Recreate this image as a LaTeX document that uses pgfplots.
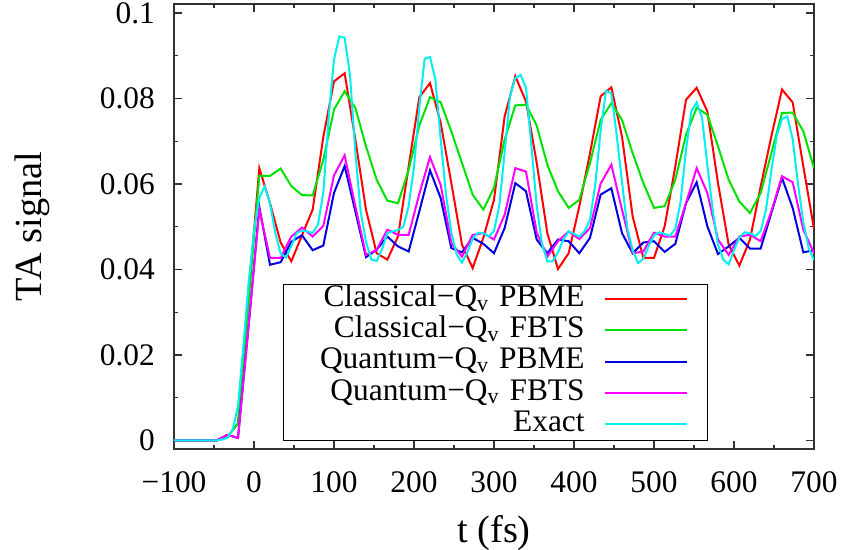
\documentclass[border=0pt]{standalone}
\usepackage{pgfplots}
\pgfplotsset{compat=1.18}
\usepackage{pgfplotstable}
\usepackage{fontspec}
\setmainfont{Liberation Serif}
\definecolor{cred}{RGB}{255,0,0}
\definecolor{cgreen}{RGB}{0,225,0}
\definecolor{cblue}{RGB}{0,0,225}
\definecolor{cmag}{RGB}{255,0,255}
\definecolor{ccyan}{RGB}{0,240,240}
\definecolor{axgray}{RGB}{50,50,50}

\pgfplotstableread{
t R G B M
-100 0 0 0 0
-86.67 0 0 0 0
-73.33 0 0 0 0
-60 0 0 0 0
-46.67 0 0 0 0
-33.33 0.0008 0.0008 0.0013 0.0013
-20 0.004 0.004 0.0006 0.0006
-6.67 0.034 0.033 0.027 0.027
6.67 0.0637 0.0619 0.0546 0.054
20 0.0555 0.0619 0.0411 0.0427
33.33 0.0463 0.0636 0.0417 0.0427
46.67 0.0419 0.0595 0.0465 0.0477
60 0.048 0.0574 0.048 0.0498
73.33 0.054 0.0573 0.0445 0.0477
86.67 0.071 0.0657 0.0456 0.0502
100 0.084 0.0774 0.0579 0.062
113.33 0.0859 0.0817 0.0642 0.0667
126.67 0.0704 0.0778 0.0536 0.0548
140 0.054 0.0688 0.0429 0.0434
153.33 0.0438 0.061 0.0446 0.0446
166.67 0.0423 0.0561 0.0477 0.0493
180 0.0477 0.0555 0.0454 0.0481
193.33 0.0641 0.0633 0.0442 0.0481
206.67 0.0803 0.0737 0.0536 0.0577
220 0.0836 0.0803 0.0632 0.0663
233.33 0.0743 0.0791 0.0567 0.0598
246.67 0.0602 0.0723 0.045 0.0462
260 0.0458 0.0649 0.044 0.043
273.33 0.0403 0.0575 0.0474 0.0481
286.67 0.0474 0.054 0.046 0.0485
300 0.0563 0.0591 0.0438 0.047
313.33 0.0758 0.0704 0.0497 0.0528
326.67 0.0852 0.0784 0.0602 0.0637
340 0.0793 0.0785 0.0583 0.0629
353.33 0.065 0.0737 0.047 0.0487
366.67 0.0485 0.0645 0.0438 0.043
380 0.0401 0.0583 0.047 0.0466
393.33 0.0438 0.0544 0.0466 0.0489
406.67 0.0548 0.0563 0.0438 0.0471
420 0.0672 0.0649 0.0474 0.0497
433.33 0.0805 0.075 0.0575 0.0601
446.67 0.0826 0.0789 0.059 0.0645
460 0.0711 0.075 0.0485 0.054
473.33 0.0524 0.0672 0.0438 0.0438
486.67 0.0427 0.0602 0.0463 0.0442
500 0.0427 0.0544 0.0466 0.0486
513.33 0.0501 0.0548 0.0441 0.0477
526.67 0.0641 0.061 0.046 0.0477
540 0.0797 0.0715 0.0555 0.0555
553.33 0.0825 0.0778 0.0604 0.0637
566.67 0.077 0.0762 0.0501 0.0579
580 0.0602 0.0688 0.0436 0.047
593.33 0.0458 0.061 0.0454 0.0434
606.67 0.0409 0.0559 0.0474 0.0477
620 0.047 0.0532 0.0449 0.0481
633.33 0.0594 0.0579 0.0449 0.0466
646.67 0.0711 0.0672 0.0532 0.0536
660 0.0821 0.0766 0.0614 0.0618
673.33 0.0791 0.0767 0.0544 0.0604
686.67 0.0641 0.0723 0.044 0.0493
700 0.0495 0.0637 0.0445 0.0438
}\approx

\pgfplotstableread{
t E
-100 0
-86.67 0
-73.33 0
-60 0
-46.67 0
-40 0.0002
-33.33 0.0006
-26.67 0.0025
-20 0.008
-13.33 0.022
-6.67 0.037
0 0.049
6.67 0.0568
13.33 0.0594
20 0.0555
26.67 0.0485
33.33 0.0437
40 0.0428
46.67 0.0455
53.33 0.0485
60 0.0491
66.67 0.0489
73.33 0.0485
80 0.0505
86.67 0.058
93.33 0.0755
100 0.0891
106.67 0.0945
113.33 0.0942
120 0.0855
126.67 0.0675
133.33 0.0535
140 0.0465
146.67 0.0423
153.33 0.042
160 0.0447
166.67 0.0485
173.33 0.0489
180 0.0492
186.67 0.05
193.33 0.0548
200 0.064
206.67 0.078
213.33 0.0893
220 0.0897
226.67 0.0845
233.33 0.0705
240 0.0575
246.67 0.0487
253.33 0.0435
260 0.0416
266.67 0.044
273.33 0.0472
280 0.0486
286.67 0.0485
293.33 0.0477
300 0.049
306.67 0.055
313.33 0.0675
320 0.0805
326.67 0.0848
333.33 0.0855
340 0.0825
346.67 0.069
353.33 0.055
360 0.046
366.67 0.0419
373.33 0.0419
380 0.044
386.67 0.047
393.33 0.0489
400 0.0483
406.67 0.0477
413.33 0.049
420 0.0516
426.67 0.06
433.33 0.0725
440 0.0818
446.67 0.0812
453.33 0.0715
460 0.0605
466.67 0.0497
473.33 0.0445
480 0.0415
486.67 0.0425
493.33 0.0455
500 0.048
506.67 0.0487
513.33 0.0483
520 0.0479
526.67 0.0495
533.33 0.056
540 0.068
546.67 0.077
553.33 0.0791
560 0.0755
566.67 0.0645
573.33 0.054
580 0.0458
586.67 0.0423
593.33 0.0412
600 0.0445
606.67 0.0475
613.33 0.0487
620 0.0485
626.67 0.0478
633.33 0.049
640 0.054
646.67 0.063
653.33 0.0712
660 0.0752
666.67 0.0758
673.33 0.0705
680 0.06
686.67 0.051
693.33 0.045
700 0.0422
}\exact

\begin{document}
\begin{tikzpicture}
\path[use as bounding box] (-174bp,-101bp) rectangle (670bp,449bp);
\begin{axis}[
  at={(0,0)}, anchor=south west,
  scale only axis, width=640bp, height=445bp,
  xmin=-100, xmax=700, ymin=-0.002, ymax=0.1021,
  axis line style={axgray, line width=1.3bp},
  every tick/.style={axgray, line width=1.1bp},
  major tick length=8bp, minor tick length=4.5bp,
  xtick={-100,0,100,200,300,400,500,600,700},
  xticklabels={−100,0,100,200,300,400,500,600,700},
  minor xtick={-50,50,150,250,350,450,550,650},
  ytick={0,0.02,0.04,0.06,0.08,0.1},
  yticklabels={0,0.02,0.04,0.06,0.08,0.1},
  minor ytick={0.01,0.03,0.05,0.07,0.09},
  tick align=inside,
  xtick pos=both, ytick pos=both,
  tick label style={font=\fontsize{31.5}{31.5}\selectfont, inner sep=0pt},
  xticklabel shift=22bp, yticklabel shift=19bp,
  xlabel={t (fs)}, ylabel={TA signal},
  every axis x label/.style={at={(axis description cs:0.5,0)}, anchor=base, yshift=-93bp, font=\fontsize{38.5}{38.5}\selectfont},
  every axis y label/.style={at={(axis description cs:-0.20625,0.5)}, anchor=base, rotate=90, font=\fontsize{38.5}{38.5}\selectfont},
  legend plot pos=right,
  legend cell align=right,
  legend image code/.code={\draw[line width=2bp,#1] (0bp,1bp) -- (82bp,1bp);},
  legend style={at={(0.1703,0.0171)}, anchor=south west, draw=black, line width=1.2bp,
    font=\fontsize{31.5}{31.5}\selectfont, inner xsep=20bp, inner ysep=0bp,
    row sep=0bp, column sep=19bp,
    nodes={inner sep=0pt, text height=22bp, text depth=9.3bp, text width=281bp, align=right}},
]
\addplot[color=cred, line width=2bp] table[x=t, y=R] {\approx};
\addlegendentry{Classical−Q\textsubscript{v} PBME}
\addplot[color=cgreen, line width=2bp] table[x=t, y=G] {\approx};
\addlegendentry{Classical−Q\textsubscript{v} FBTS}
\addplot[color=cblue, line width=2bp] table[x=t, y=B] {\approx};
\addlegendentry{Quantum−Q\textsubscript{v} PBME}
\addplot[color=cmag, line width=2bp] table[x=t, y=M] {\approx};
\addlegendentry{Quantum−Q\textsubscript{v} FBTS}
\addplot[color=ccyan, line width=2bp] table[x=t, y=E] {\exact};
\addlegendentry{Exact}
\end{axis}
\end{tikzpicture}
\end{document}
